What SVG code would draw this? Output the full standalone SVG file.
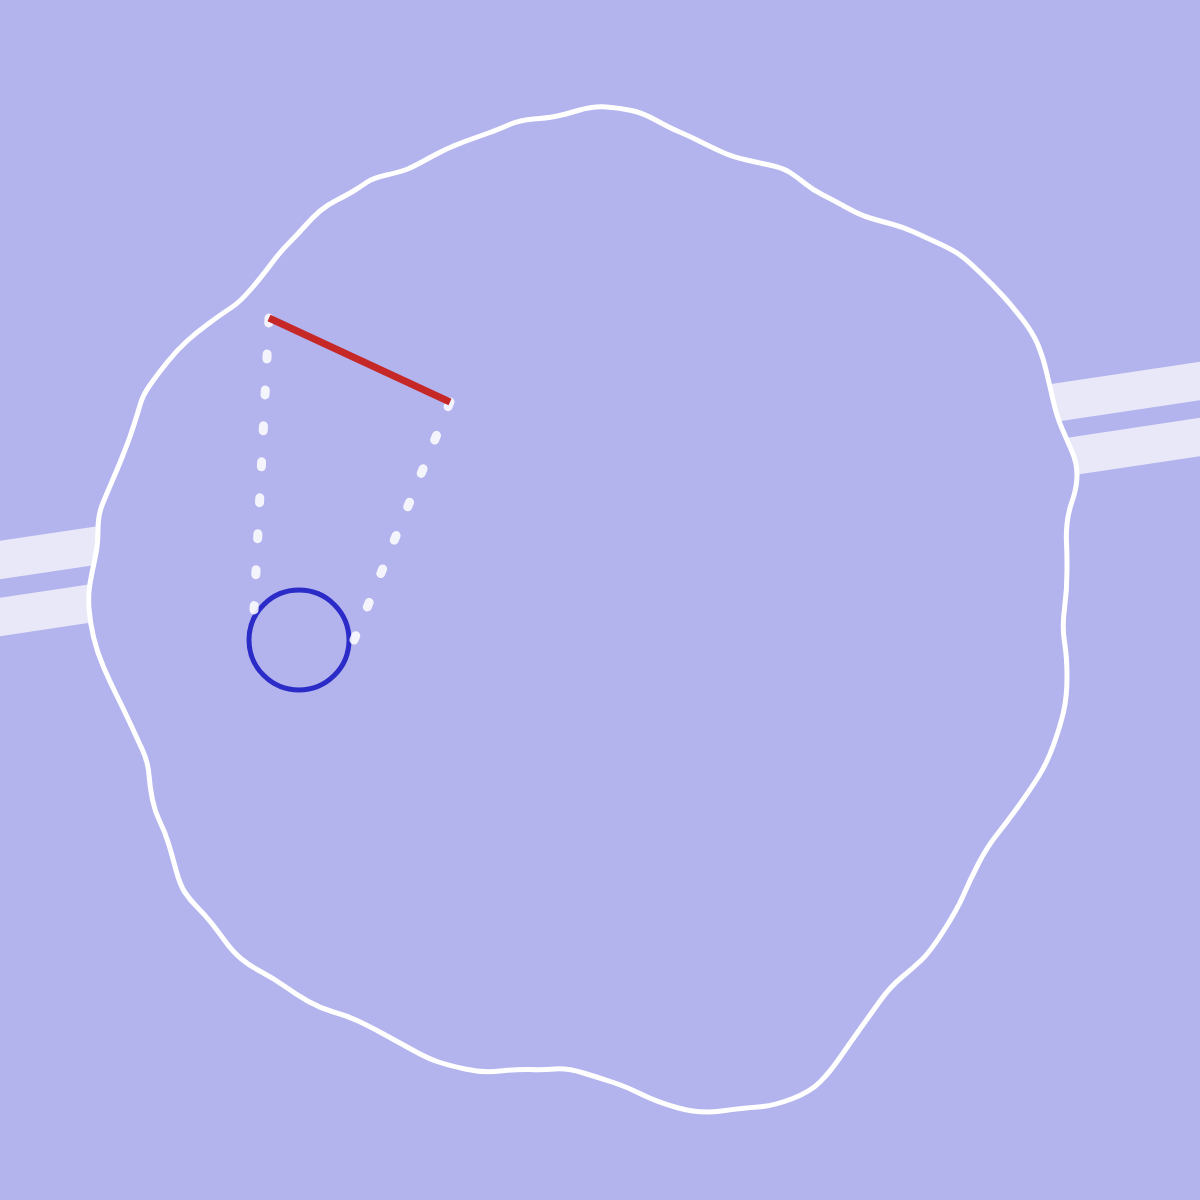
<svg xmlns="http://www.w3.org/2000/svg" width="1200" height="1200" viewBox="0 0 1200 1200">
<style>
.stripe{stroke:#e8e8f8;stroke-width:38;fill:none}
.blob{fill:#b3b3ee;stroke:#ffffff;stroke-width:5;stroke-linejoin:round}
.dots{stroke:#ffffff;stroke-opacity:0.85;stroke-width:9;stroke-linecap:round;stroke-dasharray:5 31;fill:none}
</style>
<rect width="1200" height="1200" fill="#b3b3ee"/>
<g id="stripes">
<line class="stripe" x1="-20" y1="563" x2="1220" y2="378"/>
<line class="stripe" x1="-20" y1="620" x2="1220" y2="434"/>
</g>
<g id="region">
<path class="blob" d="M606.5,107 Q620,108 631.5,110.5 Q643,113 656.5,120.5 Q670,128 678.5,131.5 Q687,135 700,141.5 Q713,148 723,152.5 Q733,157 746.5,160 Q760,163 771.5,165.5 Q783,168 790,172.5 Q797,177 805,183.5 Q813,190 823,195 Q833,200 846.5,207.5 Q860,215 870,218 Q880,221 891.5,224 Q903,227 915,232.5 Q927,238 940,244 Q953,250 960,255 Q967,260 980,272.5 Q993,285 1003,296 Q1013,307 1023,320 Q1033,333 1038,345 Q1043,357 1046.5,372 Q1050,387 1053.5,402 Q1057,417 1062,428.5 Q1067,440 1072,451.5 Q1077,463 1077,475 Q1077,487 1072.5,500 Q1068,513 1067,524 Q1066,535 1066.5,542.5 Q1067,550 1067,570 Q1067,590 1064.5,608.5 Q1062,627 1064.5,642 Q1067,657 1067,677 Q1067,697 1063.5,712 Q1060,727 1053.5,745 Q1047,763 1038.5,776.5 Q1030,790 1018.5,806 Q1007,822 997,834.5 Q987,847 978.5,863.5 Q970,880 963.5,895 Q957,910 943.5,931 Q930,952 921.5,960 Q913,968 901.5,977.5 Q890,987 880,1001 Q870,1015 860,1029 Q850,1043 840,1057.5 Q830,1072 820,1082 Q810,1092 791.5,1099 Q773,1106 758,1107 Q743,1108 721.5,1111 Q700,1114 678.5,1108 Q657,1102 642,1094.5 Q627,1087 613.5,1082.5 Q600,1078 583.5,1073 Q567,1068 555,1069 Q543,1070 530,1069.5 Q517,1069 500,1071 Q483,1073 465,1069 Q447,1065 437,1061.5 Q427,1058 413.5,1050.5 Q400,1043 383.5,1034 Q367,1025 357,1020.5 Q347,1016 333.5,1012 Q320,1008 308.5,1001.5 Q297,995 285,986.5 Q273,978 261.5,972 Q250,966 241.5,959 Q233,952 225,941 Q217,930 211,922.5 Q205,915 197.5,907.5 Q190,900 185,892.5 Q180,885 176,870 Q172,855 168.5,843.5 Q165,832 160,822 Q155,812 152.5,800 Q150,788 149,775 Q148,762 142.5,750 Q137,738 130,723 Q123,708 116.5,695 Q110,682 103.5,667 Q97,652 93.5,637 Q90,622 89,608.5 Q88,595 90,583.5 Q92,572 95,558.5 Q98,545 98,530 Q98,515 102.5,504 Q107,493 112,481.5 Q117,470 122,457.5 Q127,445 130,436.5 Q133,428 135.5,420 Q138,412 140.5,403.5 Q143,395 150,385 Q157,375 167,362.5 Q177,350 187,341 Q197,332 210,322.5 Q223,313 231.5,307.5 Q240,302 251.5,288.5 Q263,275 271.5,263.5 Q280,252 288.5,243.5 Q297,235 305,226 Q313,217 320,211 Q327,205 337,200 Q347,195 353.5,191 Q360,187 366.5,182.5 Q373,178 386.5,175 Q400,172 406.5,169.5 Q413,167 430,157.5 Q447,148 463.5,142 Q480,136 488.5,133 Q497,130 508.5,125 Q520,120 533.5,119 Q547,118 555,116.5 Q563,115 578,110.5 Q593,106 606.5,107 Z"/>
</g>
<g id="circle">
<circle cx="299" cy="640" r="50" fill="none" stroke="#2b2bc7" stroke-width="5"/>
</g>
<g id="connectors">
<line class="dots" x1="269" y1="318" x2="254" y2="610"/>
<line class="dots" x1="450" y1="402" x2="354" y2="640"/>
</g>
<g id="segment">
<line x1="269" y1="318" x2="450" y2="402" stroke="#c62828" stroke-width="7"/>
</g>
</svg>
